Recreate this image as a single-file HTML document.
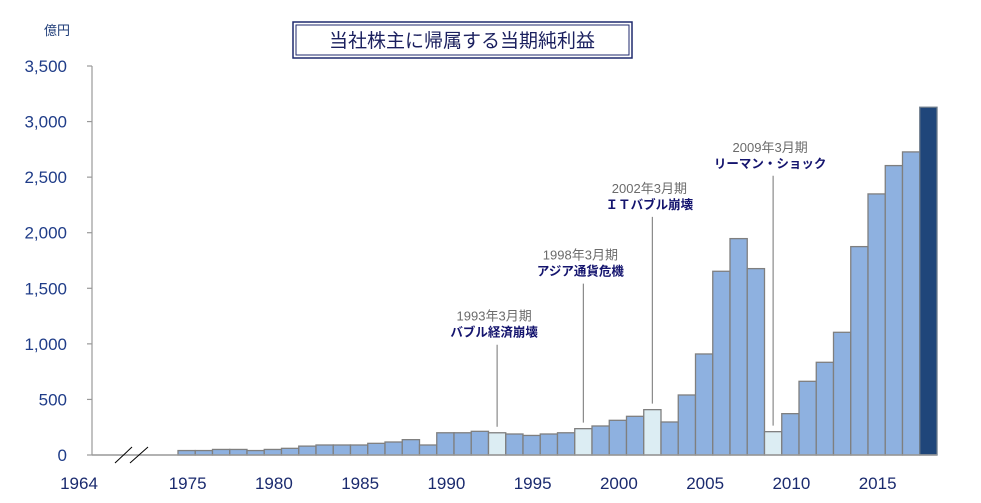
<!DOCTYPE html>
<html><head><meta charset="utf-8">
<style>
body{margin:0;background:#fff;}
svg{display:block;font-family:"Liberation Sans","Noto Sans CJK JP",sans-serif;}
</style></head>
<body>
<svg id="chart" width="981" height="503" viewBox="0 0 981 503">
  <g>
    <rect x="293" y="22" width="339" height="36" fill="#fff" stroke="#1f2a6e" stroke-width="1.5"/>
    <rect x="296" y="25" width="333" height="30" fill="none" stroke="#1f2a6e" stroke-width="1"/>
    <text x="462" y="47" text-anchor="middle" font-size="19" fill="#1a1f5e">当社株主に帰属する当期純利益</text>
  </g>
  <text x="44" y="35" font-size="13" fill="#1f3c78">億円</text>
  <g id="yaxis"></g>
  <g id="bars"></g>
  <g id="xaxis"></g>
  <g id="notes"></g>
</svg>
<script>
const years = [1975,1976,1977,1978,1979,1980,1981,1982,1983,1984,1985,1986,1987,1988,1989,1990,1991,1992,1993,1994,1995,1996,1997,1998,1999,2000,2001,2002,2003,2004,2005,2006,2007,2008,2009,2010,2011,2012,2013,2014,2015,2016,2017,2018];
const values = [40,40,50,50,40,50,60,80,90,90,90,105,117,138,90,200,200,213,200,189,176,189,200,237,261,312,348,408,297,540,909,1653,1947,1677,210,372,663,834,1104,1875,2349,2604,2727,3129];
const highlightYears = [1993,1998,2002,2009];
const latestYear = 2018;
const yTicks = [0,500,1000,1500,2000,2500,3000,3500];
const xLabels = [1975,1980,1985,1990,1995,2000,2005,2010,2015];
const noteYears = [1993,1998,2002,2009];
const noteDates = ["1993年3月期","1998年3月期","2002年3月期","2009年3月期"];
const noteTitles = ["バブル経済崩壊","アジア通貨危機","ＩＴバブル崩壊","リーマン・ショック"];
const noteLevels = [1100,1650,2250,2620];

const NS="http://www.w3.org/2000/svg";
const y0=455, yTop=66, yMax=3500;
const bw=17.25, x0=178, firstYear=1975;
const Y=v=>y0-(v/yMax)*(y0-yTop);
const X=yr=>x0+(yr-firstYear)*bw;
function mk(tag,attrs,parent,text){const e=document.createElementNS(NS,tag);for(const k in attrs)e.setAttribute(k,attrs[k]);if(text!==undefined)e.textContent=text;parent.appendChild(e);return e;}

const ya=document.getElementById('yaxis');
mk('line',{x1:92,y1:yTop,x2:92,y2:y0,stroke:'#999','stroke-width':1.2},ya);
yTicks.forEach(t=>{
  const l=mk('line',{x1:87,y1:Y(t),x2:92,y2:Y(t),stroke:'#999','stroke-width':1.2},ya);
  
  
  const tx=mk('text',{x:67,y:Y(t)+6,'text-anchor':'end','font-size':17,fill:'#1f3c88'},ya,t.toLocaleString('en-US'));
  
  
});

const bg=document.getElementById('bars');
years.forEach((yr,i)=>{
  let fill='#8eb1e0';
  if(highlightYears.includes(yr)) fill='#dcedf3';
  if(yr===latestYear) fill='#1f467a';
  const r=mk('rect',{x:X(yr),y:Y(values[i]),width:bw,height:y0-Y(values[i]),fill:fill,stroke:yr===latestYear?'#6b7a8a':'#7f7f7f','stroke-width':1.3},bg);
  
  
});

const xa=document.getElementById('xaxis');
mk('line',{x1:92,y1:y0,x2:X(latestYear)+bw,y2:y0,stroke:'#999','stroke-width':1.5},xa);
const b1=mk('line',{x1:115,y1:463,x2:132,y2:447,stroke:'#000','stroke-width':1},xa);


const b2=mk('line',{x1:130,y1:463,x2:148,y2:447,stroke:'#000','stroke-width':1},xa);


const l64=mk('text',{x:79,y:489,'text-anchor':'middle','font-size':17,fill:'#1a2a6e'},xa,'1964');


xLabels.forEach(yr=>{
  const t=mk('text',{x:X(yr)+bw/2+1,y:489,'text-anchor':'middle','font-size':17,fill:'#1a2a6e'},xa,String(yr));
  
  
});

const ng=document.getElementById('notes');
noteYears.forEach((yr,i)=>{
  const cx=X(yr)+bw/2;
  const vi=years.indexOf(yr);
  const ty=Y(noteLevels[i]);
  const tcx=cx-3;
  const line=mk('line',{x1:cx,y1:ty+12,x2:cx,y2:Y(values[vi])-6,stroke:'#8a8a8a','stroke-width':1.2},ng);
  
  
  const d=mk('text',{x:tcx,y:ty-12,'text-anchor':'middle','font-size':13,fill:'#6b6b6b'},ng,noteDates[i]);
  
  
  const t=mk('text',{x:tcx,y:ty+4,'text-anchor':'middle','font-size':12.5,'font-weight':'bold',fill:'#14146e'},ng,noteTitles[i]);
  
  
});
</script>
</body></html>
